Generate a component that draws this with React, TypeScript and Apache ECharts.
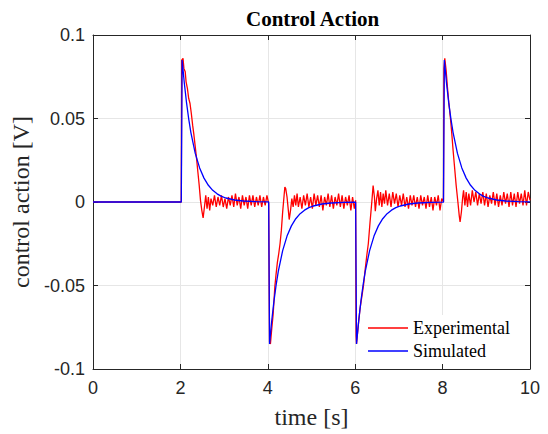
import React, { useEffect, useRef } from "react";
import * as echarts from "echarts";

const xTicks = [0, 2, 4, 6, 8, 10];
const yTicks = [-0.1, -0.05, 0, 0.05, 0.1];

const expTime = [
  0, 2.02,
  2.03, 2.06, 2.08, 2.11, 2.13, 2.16, 2.19, 2.22, 2.25, 2.28, 2.31, 2.34, 2.37, 2.4, 2.43, 2.46, 2.49, 2.52, 2.55, 2.58,
  2.61, 2.64, 2.67, 2.7, 2.74, 2.78, 2.82, 2.86, 2.9, 2.94, 2.98, 3.02, 3.06, 3.1, 3.14, 3.18, 3.22, 3.26, 3.3, 3.34,
  3.38, 3.42, 3.46, 3.5, 3.54, 3.58, 3.62, 3.66, 3.7, 3.74, 3.78, 3.82, 3.86, 3.9, 3.94, 3.98, 4.02,
  4.04, 4.06, 4.09, 4.12, 4.14, 4.16, 4.19, 4.22, 4.25, 4.28, 4.31, 4.34, 4.37, 4.39, 4.41, 4.44, 4.47, 4.49, 4.52, 4.55,
  4.58, 4.61, 4.64, 4.67, 4.7, 4.74, 4.78, 4.82, 4.86, 4.9, 4.94, 4.98, 5.02, 5.06, 5.1, 5.14, 5.18, 5.22, 5.26, 5.3,
  5.34, 5.38, 5.42, 5.46, 5.5, 5.54, 5.58, 5.62, 5.66, 5.7, 5.74, 5.78, 5.82, 5.86, 5.9, 5.94, 5.98, 6.01,
  6.02, 6.03, 6.07, 6.11, 6.15, 6.19, 6.23, 6.27, 6.3, 6.34, 6.38, 6.41, 6.44, 6.46, 6.49, 6.52, 6.55, 6.58, 6.61, 6.64,
  6.67, 6.7, 6.74, 6.78, 6.82, 6.86, 6.9, 6.94, 6.98, 7.02, 7.06, 7.1, 7.14, 7.18, 7.22, 7.26, 7.3, 7.34, 7.38, 7.42,
  7.46, 7.5, 7.54, 7.58, 7.62, 7.66, 7.7, 7.74, 7.78, 7.82, 7.86, 7.9, 7.94, 7.98, 8.02,
  8.03, 8.05, 8.08, 8.11, 8.14, 8.18, 8.21, 8.24, 8.27, 8.31, 8.35, 8.38, 8.4, 8.43, 8.46, 8.48, 8.51, 8.54, 8.57, 8.6,
  8.64, 8.68, 8.72, 8.76, 8.8, 8.84, 8.88, 8.92, 8.96, 9.0, 9.04, 9.08, 9.12, 9.16, 9.2, 9.24, 9.28, 9.32, 9.36, 9.4,
  9.44, 9.48, 9.52, 9.56, 9.6, 9.64, 9.68, 9.72, 9.76, 9.8, 9.84, 9.88, 9.92, 9.96, 10.0,
];

const expValue = [
  0, 0,
  0.085, 0.086, 0.08, 0.078, 0.072, 0.068, 0.062, 0.059, 0.053, 0.046, 0.04, 0.033, 0.026, 0.018, 0.01, 0.001, -0.005, -0.0095, -0.003, 0.004,
  -0.004, 0.003, -0.005, 0.002, -0.002, 0.004, -0.003, 0.003, -0.002, 0.004, -0.003, 0.002, -0.004, 0.003, -0.002, 0.004, -0.003, 0.005, -0.002, 0.003,
  -0.004, 0.004, -0.002, 0.003, -0.004, 0.004, -0.002, 0.004, -0.003, 0.003, -0.002, 0.004, -0.003, 0.003, -0.002, 0.004, -0.001,
  -0.084, -0.085, -0.076, -0.068, -0.06, -0.051, -0.043, -0.036, -0.031, -0.025, -0.017, -0.006, 0.003, 0.009, 0.008, 0.003, -0.005, -0.0105, -0.005, 0.002,
  -0.003, 0.004, -0.002, 0.005, -0.003, 0.003, -0.004, 0.004, -0.002, 0.005, -0.003, 0.003, -0.004, 0.005, -0.002, 0.004, -0.003, 0.004, -0.005, 0.003,
  -0.002, 0.005, -0.003, 0.004, -0.004, 0.003, -0.002, 0.005, -0.003, 0.004, -0.004, 0.003, -0.002, 0.004, -0.005, 0.003, -0.004, 0.001,
  -0.08, -0.085, -0.074, -0.064, -0.057, -0.05, -0.04, -0.031, -0.025, -0.012, 0.0, 0.0099, 0.003, -0.0055, 0.002, 0.007, -0.002, 0.006, -0.003, 0.005,
  -0.001, 0.007, -0.002, 0.005, -0.003, 0.006, -0.001, 0.005, -0.003, 0.004, -0.002, 0.005, -0.003, 0.003, -0.004, 0.004, -0.002, 0.004, -0.003, 0.003,
  -0.004, 0.004, -0.002, 0.003, -0.004, 0.004, -0.003, 0.003, -0.005, 0.003, -0.002, 0.004, -0.005, 0.002, 0.0,
  0.08, 0.086, 0.079, 0.069, 0.06, 0.05, 0.041, 0.031, 0.022, 0.01, 0.0, -0.008, -0.012, -0.006, 0.003, 0.007, -0.002, 0.006, -0.003, 0.005,
  -0.002, 0.007, 0.0, 0.006, -0.002, 0.005, -0.001, 0.006, -0.002, 0.005, -0.003, 0.004, -0.001, 0.006, -0.002, 0.005, -0.003, 0.004, -0.002, 0.006,
  -0.001, 0.005, -0.003, 0.006, -0.002, 0.005, -0.003, 0.006, -0.001, 0.005, -0.002, 0.007, -0.002, 0.006, 0.001,
];

const simTime = [
  0, 2.02,
  2.04, 2.09, 2.14, 2.19, 2.24, 2.34, 2.44, 2.54, 2.64, 2.74, 2.84, 2.94, 3.04, 3.24, 3.44, 3.74, 4.02,
  4.04, 4.09, 4.14, 4.19, 4.24, 4.34, 4.44, 4.54, 4.64, 4.74, 4.84, 4.94, 5.04, 5.24, 5.44, 5.74, 6.01,
  6.03, 6.08, 6.13, 6.18, 6.23, 6.33, 6.43, 6.53, 6.63, 6.73, 6.83, 6.93, 7.03, 7.23, 7.43, 7.73, 8.02,
  8.04, 8.09, 8.14, 8.19, 8.24, 8.34, 8.44, 8.54, 8.64, 8.74, 8.84, 8.94, 9.04, 9.24, 9.44, 9.74, 10.0,
];

const simValue = [
  0, 0,
  0.085, 0.0711, 0.0595, 0.0498, 0.0416, 0.0291, 0.0204, 0.0143, 0.01, 0.007, 0.0049, 0.0034, 0.0024, 0.0012, 0.0006, 0.0002, 0.0001,
  -0.085, -0.0711, -0.0595, -0.0498, -0.0416, -0.0291, -0.0204, -0.0143, -0.01, -0.007, -0.0049, -0.0034, -0.0024, -0.0012, -0.0006, -0.0002, -0.0001,
  -0.085, -0.0711, -0.0595, -0.0498, -0.0416, -0.0291, -0.0204, -0.0143, -0.01, -0.007, -0.0049, -0.0034, -0.0024, -0.0012, -0.0006, -0.0002, -0.0001,
  0.085, 0.0711, 0.0595, 0.0498, 0.0416, 0.0291, 0.0204, 0.0143, 0.01, 0.007, 0.0049, 0.0034, 0.0024, 0.0012, 0.0006, 0.0002, 0.0001,
];

const AXIS = "#262626";

export default function App() {
  const ref = useRef<HTMLDivElement>(null);
  useEffect(() => {
    if (!ref.current) return;
    const chart = echarts.init(ref.current, null, { renderer: "svg" });
    const expData = expTime.map((t, i) => [t, expValue[i]]);
    const simData = simTime.map((t, i) => [t, simValue[i]]);
    const xMin = xTicks[0];
    const xMax = xTicks[xTicks.length - 1];
    const yMin = yTicks[0];
    const yMax = yTicks[yTicks.length - 1];
    const tick = { show: true, inside: true, length: 5, lineStyle: { color: AXIS, width: 1 } };
    const line = { show: true, onZero: false, lineStyle: { color: AXIS, width: 1 } };
    chart.setOption({
      animation: false,
      backgroundColor: "#fff",
      title: {
        text: "Control Action",
        left: 246,
        top: 8,
        padding: 0,
        textStyle: { fontFamily: "Liberation Serif", fontSize: 21, fontWeight: "bold", color: "#000" },
      },
      grid: { left: 93, right: 18, top: 35, bottom: 61, containLabel: false },
      legend: {
        orient: "vertical",
        left: 363,
        top: 315,
        padding: [4, 8, 4, 5],
        backgroundColor: "#fff",
        icon: "rect",
        itemWidth: 40,
        itemHeight: 1.5,
        itemGap: 5,
        data: [
          { name: "Experimental", itemStyle: { color: "#ff0000" } },
          { name: "Simulated", itemStyle: { color: "#0000ff" } },
        ],
        textStyle: { fontFamily: "Liberation Serif", fontSize: 18, color: "#000", lineHeight: 18 },
      },
      xAxis: [
        {
          type: "value",
          min: xMin,
          max: xMax,
          interval: 2,
          axisLine: line,
          axisTick: tick,
          axisLabel: { fontFamily: "Liberation Sans", fontSize: 18, color: AXIS, margin: 10 },
          splitLine: { show: true, lineStyle: { color: "#e6e6e6", width: 1 } },
          name: "time [s]",
          nameLocation: "middle",
          nameGap: 36,
          nameTextStyle: { fontFamily: "Liberation Serif", fontSize: 24, color: AXIS },
        },
        {
          type: "value",
          position: "top",
          min: xMin,
          max: xMax,
          interval: 2,
          axisLine: line,
          axisTick: tick,
          axisLabel: { show: false },
          splitLine: { show: false },
        },
      ],
      yAxis: [
        {
          type: "value",
          min: yMin,
          max: yMax,
          interval: 0.05,
          axisLine: line,
          axisTick: tick,
          axisLabel: { fontFamily: "Liberation Sans", fontSize: 18, color: AXIS, margin: 8 },
          splitLine: { show: true, lineStyle: { color: "#e6e6e6", width: 1 } },
          name: "control action [V]",
          nameLocation: "middle",
          nameGap: 58,
          nameTextStyle: { fontFamily: "Liberation Serif", fontSize: 24, color: AXIS },
        },
        {
          type: "value",
          position: "right",
          min: yMin,
          max: yMax,
          interval: 0.05,
          axisLine: line,
          axisTick: tick,
          axisLabel: { show: false },
          splitLine: { show: false },
        },
      ],
      series: [
        {
          name: "Experimental",
          type: "line",
          data: expData,
          symbol: "none",
          lineStyle: { color: "#ff0000", width: 1.3 },
          itemStyle: { color: "#ff0000" },
          z: 2,
        },
        {
          name: "Simulated",
          type: "line",
          data: simData,
          symbol: "none",
          lineStyle: { color: "#0000ff", width: 1.3 },
          itemStyle: { color: "#0000ff" },
          z: 3,
        },
      ],
    });
    return () => chart.dispose();
  }, []);
  return <div ref={ref} style={{ position: "absolute", left: 0, top: 0, width: 548, height: 434 }} />;
}
